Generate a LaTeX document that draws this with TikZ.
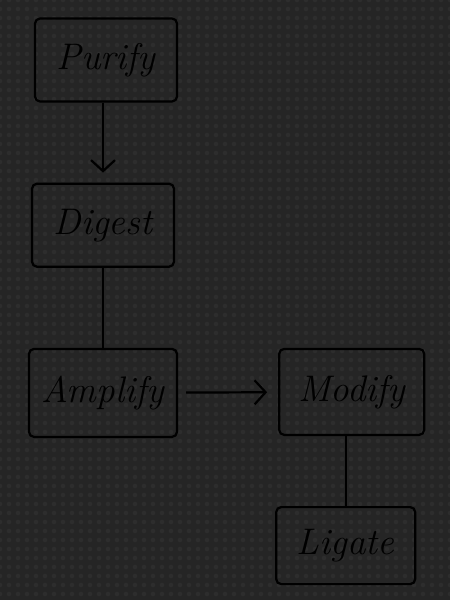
\documentclass[tikz,border=0pt]{standalone}
\usepackage{tikz}
\usetikzlibrary{positioning, arrows.meta}

\definecolor{carbon}{RGB}{37,37,37}
\definecolor{carbonweave}{RGB}{45,45,45}

\tikzset{
    stage/.style={draw=black, line width=2.2pt, rounded corners=5pt,
        minimum width=142pt, minimum height=83pt,
        font=\fontsize{37}{44}\selectfont\itshape, text=black},
    link/.style={draw=black, line width=2.2pt},
    flow/.style={link, -{Straight Barb[length=11pt, width=24pt, line width=2.2pt]}}
}

\begin{document}
\begin{tikzpicture}[x=1pt, y=-1pt, node distance=80pt]
        % carbon background
        \useasboundingbox (0,0) rectangle (450,600);
        \begin{scope}
            \clip (0,0) rectangle (450,600);
            \fill[carbon] (-10,-10) rectangle (460,610);
            \fill[carbonweave] \foreach \i in {0,9,...,459} {\foreach \j in {0,9,...,609} {(\i,\j) circle (2.3pt)}};
        \end{scope}

        \node[stage] at (106,60) (purify) {Purify};
        \node[stage, below=80pt of purify, xshift=-3pt] (digest) {Digest};
        \draw [flow, shorten >=10pt] (purify.south -| digest)--(digest);

        \node[stage, below=80pt of digest, minimum width=148pt, minimum height=88pt] (amplify) {Amplify};
        \draw [link] (digest)--(amplify);

        \node[stage, right=100pt of amplify, yshift=1pt, minimum width=145pt, minimum height=86pt] (modify) {Modify};
        \draw [flow, shorten <=8pt, shorten >=11pt] (amplify)--(modify);

        \node[stage, below=70pt of modify, xshift=-6pt, minimum width=139pt, minimum height=77pt] (ligate) {Ligate};
        \draw [link] (modify.south -| ligate)--(ligate);
    \end{tikzpicture}
\end{document}
